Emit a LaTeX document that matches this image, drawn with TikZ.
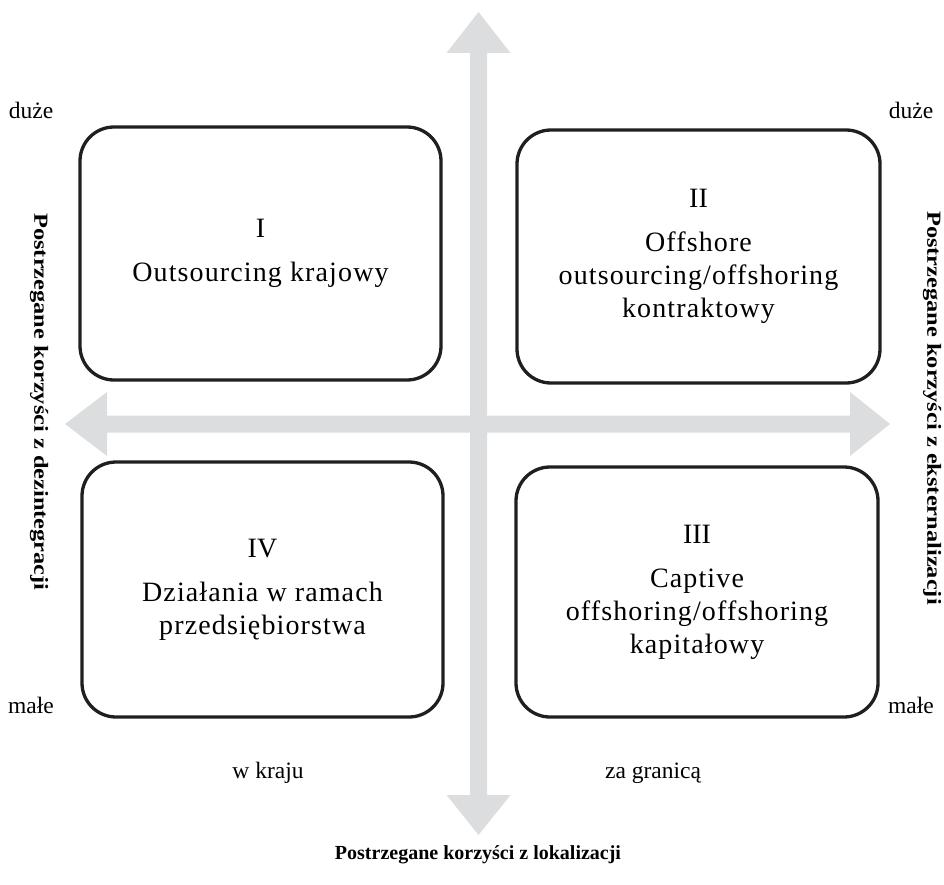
\documentclass[tikz,border=0pt]{standalone}
\usepackage{fontspec}
\setmainfont{Liberation Serif}
\newfontfamily\boxfont[LetterSpace=4]{Liberation Serif}
\definecolor{axisgray}{HTML}{DCDDDF}
\tikzset{
  qbox/.style={draw=black!88, line width=3.3pt, rounded corners=34pt, fill=white,
    minimum width=361pt, minimum height=253pt, align=center,
    font=\boxfont\fontsize{28}{33}\selectfont},
  sidelbl/.style={font=\fontsize{23.5}{27}\selectfont},
  axislbl/.style={font=\bfseries\fontsize{20}{24}\selectfont},
}
\newcommand{\numeral}[1]{{\rmfamily #1}\\[11pt]}
\begin{document}
\begin{tikzpicture}[x=1pt,y=-1pt]
\useasboundingbox (0,0) rectangle (944,885);
% axes
\fill[axisgray] (470,53) -- (446.5,53) -- (478.5,12) -- (510.5,53) -- (487,53)
  -- (487,795) -- (510.5,795) -- (478.5,835) -- (446.5,795) -- (470,795) -- cycle;
\fill[axisgray] (107,415.5) -- (107,392) -- (65,424) -- (107,456) -- (107,432.5)
  -- (850,432.5) -- (850,456) -- (890,424) -- (850,392) -- (850,415.5) -- cycle;
% quadrant boxes
\node[qbox] (q1) at (260.5,253.5) {\numeral{I}Outsourcing krajowy};
\node[qbox, minimum width=363pt] (q2) at (698.5,256.5) {\numeral{II}Offshore\\outsourcing/offshoring\\kontraktowy};
\node[qbox, minimum height=255pt] (q4) at (262.5,589.5) {\numeral{IV}Działania w ramach\\przedsiębiorstwa};
\node[qbox, minimum width=362pt, minimum height=250pt] (q3) at (697,592) {\numeral{III}Captive\\offshoring/offshoring\\kapitałowy};
% scale labels
\node[sidelbl] (dl) at (31,110) {duże};
\node[sidelbl] (dr) at (911,110) {duże};
\node[sidelbl] (ml) at (31,705) {małe};
\node[sidelbl] (mr) at (911,705) {małe};
\node[sidelbl] (wk) at (268,773) {w kraju};
\node[sidelbl] (zg) at (653,773) {za granicą};
% axis titles
\node[axislbl, rotate=-90] (yl) at (39,402) {\scalebox{1.22}[1]{Postrzegane korzyści z dezintegracji}};
\node[axislbl, rotate=-90] (yr) at (932,408) {\scalebox{1.22}[1]{Postrzegane korzyści z eksternalizacji}};
\node[axislbl] (xl) at (478,855) {Postrzegane korzyści z lokalizacji};
\end{tikzpicture}
\end{document}
